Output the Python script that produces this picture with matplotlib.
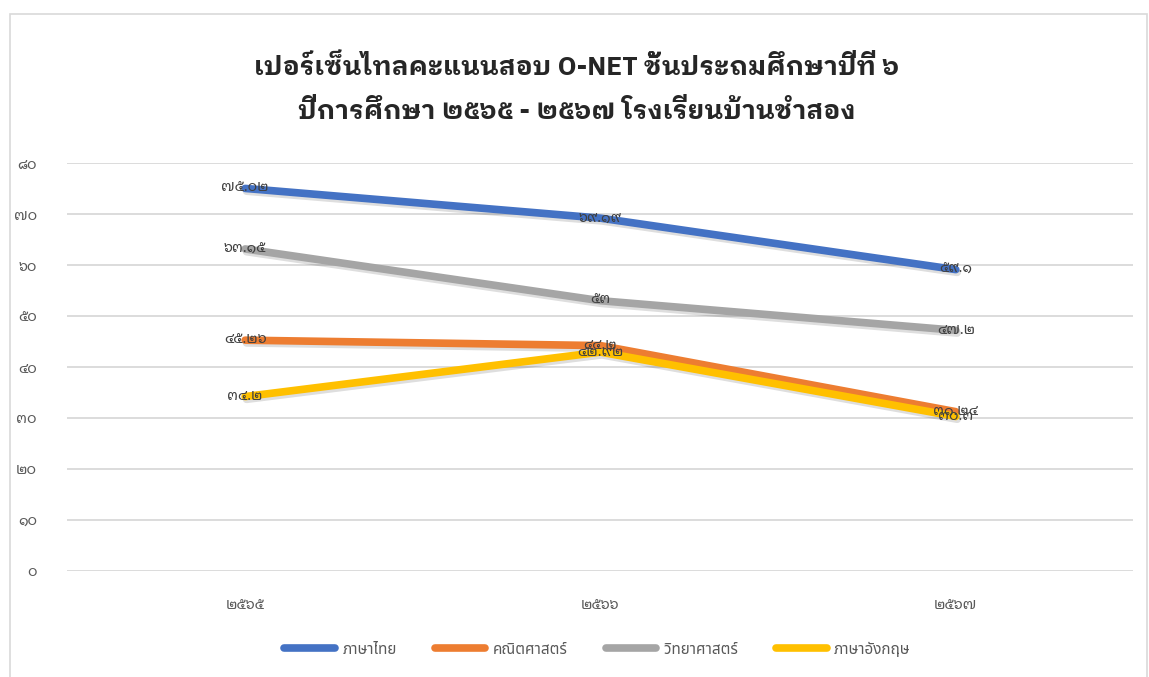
import matplotlib
matplotlib.use("Agg")
import matplotlib.pyplot as plt
import matplotlib.patheffects as pe
from matplotlib.patches import Rectangle
from matplotlib.ticker import FuncFormatter

# data (Thai Buddhist years)
years = [2565, 2566, 2567]
thai = [75.02, 69.19, 59.1]
math = [45.26, 44.2, 31.24]
science = [63.15, 53, 47.2]
english = [34.2, 42.92, 30.3]

series_names = ["ภาษาไทย", "คณิตศาสตร์", "วิทยาศาสตร์", "ภาษาอังกฤษ"]
colors = ["#4472C4", "#ED7D31", "#A5A5A5", "#FFC000"]

TITLE = "เปอร์เซ็นไทลคะแนนสอบ O-NET ชั้นประถมศึกษาปีที่ ๖\nปีการศึกษา ๒๕๖๕ - ๒๕๖๗ โรงเรียนบ้านชำสอง"

THAI_DIGITS = str.maketrans("0123456789", "๐๑๒๓๔๕๖๗๘๙")


def to_thai(v):
    s = ("%g" % v)
    return s.translate(THAI_DIGITS)


looped = ["Noto Sans Thai Looped", "DejaVu Sans"]
title_font = ["IBM Plex Sans Thai Looped", "DejaVu Sans"]
loopless = ["Noto Sans Thai", "DejaVu Sans"]

fig = plt.figure(figsize=(11.49, 6.77), dpi=100)
fig.patch.set_facecolor("white")
fig.patches.append(Rectangle((10 / 1149, -0.01), 1137 / 1149, (677 - 14) / 677 + 0.01,
                             transform=fig.transFigure, fill=False,
                             edgecolor="#d9d9d9", linewidth=1.2))

ax = fig.add_axes([0.0587, 0.1566, 0.9278, 0.6026])
x = list(range(len(years)))

shadow = [pe.SimpleLineShadow(offset=(1, -2), shadow_color="black", alpha=0.13),
          pe.Normal()]
for vals, name, c in zip([thai, math, science, english], series_names, colors):
    ax.plot(x, vals, color=c, linewidth=5.5, solid_capstyle="round",
            solid_joinstyle="round", label=name, path_effects=shadow, zorder=3)
    for xi, v in zip(x, vals):
        ax.text(xi, v, to_thai(v), ha="center", va="center", fontsize=10.5,
                color="#404040", family=looped, zorder=4)

ax.set_xlim(-0.5, 2.5)
ax.set_ylim(0, 80)
ax.set_yticks(range(0, 81, 10))
ax.yaxis.set_major_formatter(FuncFormatter(lambda v, p: to_thai(int(v))))
ax.set_xticks(x)
ax.set_xticklabels([to_thai(y) for y in years])
ax.grid(axis="y", color="#d9d9d9", linewidth=1.3)
ax.set_axisbelow(True)
for s in ax.spines.values():
    s.set_visible(False)
ax.tick_params(length=0, labelsize=10.5, labelcolor="#595959")
ax.tick_params(axis="y", pad=22)
ax.tick_params(axis="x", pad=20)
for lab in ax.get_xticklabels() + ax.get_yticklabels():
    lab.set_family(looped)

fig.text(0.502, 0.869, TITLE, ha="center", va="center", fontsize=19,
         fontweight="bold", color="#262626", family=title_font, linespacing=1.95)

leg = fig.legend(loc="center", bbox_to_anchor=(0.52, 0.04), ncol=4, frameon=False,
                 prop={"family": loopless, "size": 11}, handlelength=3.3,
                 handletextpad=0.5, columnspacing=2.5)
for t in leg.get_texts():
    t.set_color("#595959")
for h in leg.get_lines():
    h.set_linewidth(5.5)
    h.set_solid_capstyle("round")
    h.set_path_effects([])

fig.savefig("out.png", dpi=100)
